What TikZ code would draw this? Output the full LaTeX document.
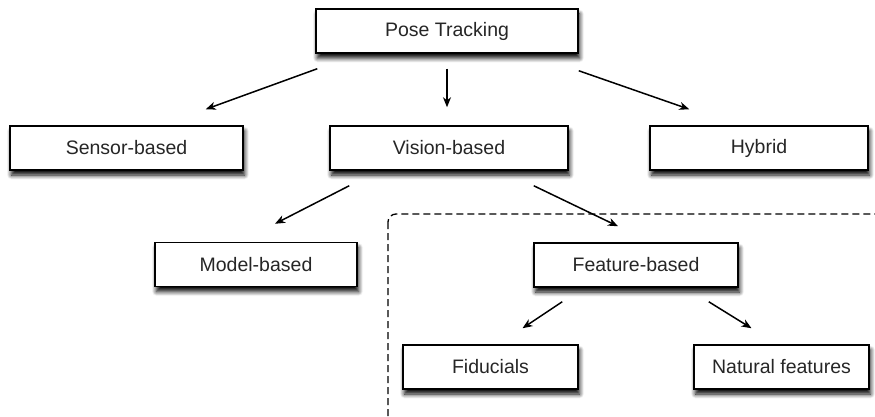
\documentclass[tikz,border=0pt]{standalone}
\usepackage{fontspec}
\setmainfont{Liberation Sans}
\usetikzlibrary{shadows.blur, arrows.meta}

\tikzset{
	box/.style={draw=black, line width=1.5pt, fill=white, minimum height=44, inner sep=0pt,
		font=\fontsize{19.5}{22}\selectfont, text=black!85,
		blur shadow={shadow xshift=1.5pt, shadow yshift=-5pt, shadow blur radius=4.5pt,
			shadow blur steps=8, shadow opacity=100}},
	link/.style={-{Stealth[length=10pt, width=8pt, inset=3pt]}, line width=1.5pt, black},
}

\begin{document}
\begin{tikzpicture}[x=1pt, y=-1pt]

\useasboundingbox (0,0) rectangle (875,417);
\clip (0,0) rectangle (875,417);

% group round the feature branch
\draw [dash pattern=on 7pt off 4pt, line width=1.3pt, black, rounded corners=8]
	(388,214) rectangle (890,430);

\node [box, minimum width=262] (pose) at (447,31) {Pose Tracking};

\node [box, minimum width=233] (sensor) at (126.5,148) {Sensor-based};
\node [box, minimum width=238] (vision) at (449,148) {Vision-based};
\node [box, minimum width=218] (hybrid) at (759,148) {Hybrid};

\node [box, minimum width=202] (model) at (256,264.5) {Model-based};
\node [box, minimum width=204] (feature) at (636,265) {Feature-based};

\node [box, minimum width=175] (fid) at (490.5,367) {Fiducials};
\node [box, minimum width=175] (nat) at (781.5,367) {Natural features};

%\draw [link] (pose) -- (sensor);
\draw [link] ([shift={(2,15)}]pose.south west) -- ([shift={(-38,-16)}]sensor.north east);
\draw [link] ([shift={(0,15)}]pose.south) -- ([shift={(-2,-18)}]vision.north);
\draw [link] ([shift={(0,17)}]pose.south east) -- ([shift={(40,-16)}]hybrid.north west);

\draw [link] ([shift={(20,15)}]vision.south west) -- ([shift={(19,-18)}]model.north);
\draw [link] ([shift={(-35,15)}]vision.south east) -- ([shift={(-18,-16)}]feature.north);

\draw [link] ([shift={(29,14)}]feature.south west) -- ([shift={(32,-16)}]fid.north);
\draw [link] ([shift={(-30,14)}]feature.south east) -- ([shift={(-30,-16)}]nat.north);

\end{tikzpicture}
\end{document}
